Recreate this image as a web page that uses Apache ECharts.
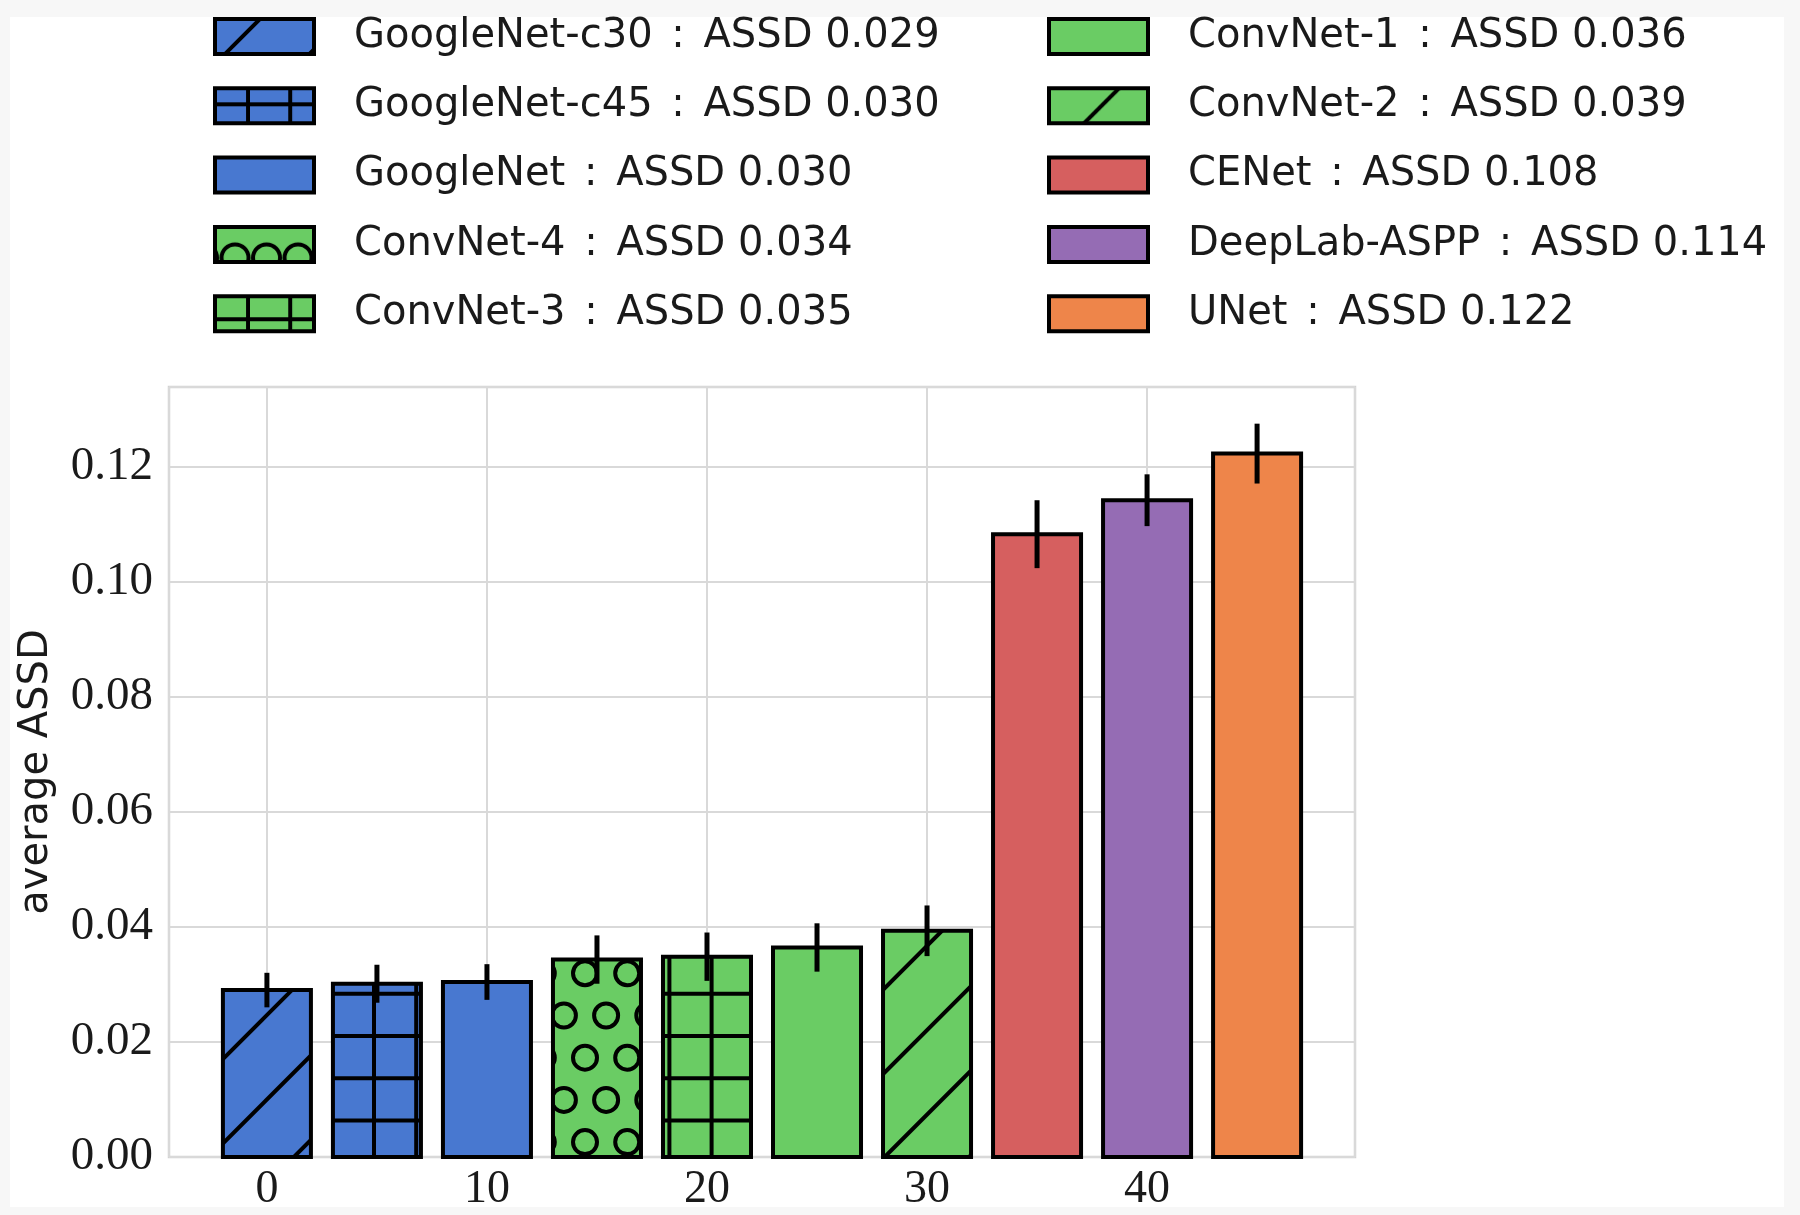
<!DOCTYPE html>
<html>
<head>
<meta charset="utf-8">
<script src="https://cdn.jsdelivr.net/npm/echarts@6/dist/echarts.min.js"></script>
<style>
html,body{margin:0;padding:0;background:#f7f7f7;}
#c{width:1800px;height:1215px;position:absolute;left:0;top:0;}
</style>
</head>
<body>
<div id="c"></div>
<script>
// ---- data ----
const models    = ['GoogleNet-c30','GoogleNet-c45','GoogleNet','ConvNet-4','ConvNet-3','ConvNet-1','ConvNet-2','CENet','DeepLab-ASPP','UNet'];
const positions = [0, 5, 10, 15, 20, 25, 30, 35, 40, 45];
const assd      = [0.0290, 0.0301, 0.0304, 0.0343, 0.0348, 0.0364, 0.0393, 0.1082, 0.1141, 0.1222];
const assdErr   = [0.0030, 0.0033, 0.0031, 0.0042, 0.0042, 0.0042, 0.0044, 0.0059, 0.0045, 0.0052];
const hatches   = ['/', '+', '', 'o', '+', '', '/', '', '', ''];
const xTicks    = [0, 10, 20, 30, 40];
const yTicks    = [0.00, 0.02, 0.04, 0.06, 0.08, 0.10, 0.12];
const legendCol1 = models.slice(0, 5);
const legendCol2 = models.slice(5);

// ---- style ----
const colors = ['#4878d0','#4878d0','#4878d0','#6acc64','#6acc64','#6acc64','#6acc64','#d65f5f','#956cb4','#ee854a'];
const BAR_W = 4;
const HS = 42.2;          // hatch cell size in px
const HLW = 4;            // hatch line width
const TXT = '#1a1a1a';
const SANS = 'DejaVu Sans';
const SERIF = 'Liberation Serif';

// hatch phase settings: bars use page-anchored phases, legend icons use icon-local phases
const barPhase = { '/': { ph: 16 }, '+': { phx: 36.4, phy: 23.2 }, 'o': { phx: 36.4, phy: 44.9, sp: HS, r: 12, rows: true } };
const legPhase = [
  { ph: 45 }, { phx: 33, phy: 16 }, null, { phx: 20, phy: 31, sp: 31.5, r: 13.5, rows: false },
  { phx: 33, phy: 23 }, null, { ph: 70 }, null, null, null
];

function makeFill(color, hatch, o) {
  if (!hatch) return color;
  const cv = document.createElement('canvas');
  let w, h;
  if (hatch === '/') { w = h = Math.round(HS * 10); }
  else if (hatch === '+') { w = h = Math.round(HS * 5); }
  else if (o.rows) { w = Math.round(HS * 5); h = Math.round(HS * 10); }
  else { w = Math.round(o.sp * 20); h = 400; }
  cv.width = w; cv.height = h;
  const ctx = cv.getContext('2d');
  ctx.fillStyle = color; ctx.fillRect(0, 0, w, h);
  ctx.strokeStyle = '#000'; ctx.lineWidth = HLW;
  if (hatch === '/') {
    const sp = HS * 2;
    for (let c = o.ph - 2 * sp; c < w + h + 2 * sp; c += sp) {
      ctx.beginPath(); ctx.moveTo(c + 30, -30); ctx.lineTo(c - h - 30, h + 30); ctx.stroke();
    }
  } else if (hatch === '+') {
    for (let x = o.phx - HS; x < w + HS; x += HS) { ctx.beginPath(); ctx.moveTo(x, -5); ctx.lineTo(x, h + 5); ctx.stroke(); }
    for (let y = o.phy - HS; y < h + HS; y += HS) { ctx.beginPath(); ctx.moveTo(-5, y); ctx.lineTo(w + 5, y); ctx.stroke(); }
  } else if (hatch === 'o') {
    if (o.rows) {
      for (let j = -2; j < 12; j++) {
        const y = o.phy + j * o.sp;
        const off = (j % 2 === 0) ? 0 : -o.sp / 2;
        for (let i = -2; i < 8; i++) {
          const x = o.phx + off + i * o.sp;
          ctx.beginPath(); ctx.arc(x, y, o.r, 0, Math.PI * 2); ctx.stroke();
        }
      }
    } else {
      for (let i = -1; i < 22; i++) {
        ctx.beginPath(); ctx.arc(o.phx + i * o.sp, o.phy, o.r, 0, Math.PI * 2); ctx.stroke();
      }
    }
  }
  return { image: cv, repeat: 'repeat' };
}
const fills = models.map((m, i) => makeFill(colors[i], hatches[i], barPhase[hatches[i]]));
const legendFills = models.map((m, i) => makeFill(colors[i], hatches[i], legPhase[i]));

const xMin = positions[0] - BAR_W / 2, xMax = positions[positions.length - 1] + BAR_W / 2;
const xPad = (xMax - xMin) * 0.05;
const yTop = Math.max(...assd.map((v, i) => v + assdErr[i])) * 1.05;

const barSeries = models.map((name, i) => ({
  name: name,
  type: 'custom',
  coordinateSystem: 'cartesian2d',
  z: 2,
  itemStyle: { color: fills[i], borderColor: '#000', borderWidth: 4 },
  encode: { x: 0, y: 1 },
  data: [[positions[i], assd[i]]],
  renderItem: (params, api) => {
    const x = api.value(0), v = api.value(1);
    const tl = api.coord([x - BAR_W / 2, v]);
    const br = api.coord([x + BAR_W / 2, 0]);
    return {
      type: 'rect',
      shape: { x: tl[0], y: tl[1], width: br[0] - tl[0], height: br[1] - tl[1] },
      style: { fill: fills[i], stroke: '#000', lineWidth: 4 }
    };
  }
}));

const errSeries = {
  name: 'err',
  type: 'custom',
  coordinateSystem: 'cartesian2d',
  z: 5,
  encode: { x: 0, y: 1 },
  data: positions.map((p, i) => [p, assd[i], assdErr[i]]),
  renderItem: (params, api) => {
    const x = api.value(0), v = api.value(1), e = api.value(2);
    const a = api.coord([x, v - e]), b = api.coord([x, v + e]);
    return { type: 'line', shape: { x1: a[0], y1: a[1], x2: b[0], y2: b[1] },
             style: { stroke: '#000', lineWidth: 5 } };
  }
};

const LFS = 40;
const legendRich = {
  n: { fontFamily: SANS, fontSize: LFS, color: TXT },
  c: { fontFamily: SANS, fontSize: LFS, color: TXT, padding: [0, 6, 0, 6] }
};
function legendFmt(name) {
  const i = models.indexOf(name);
  return '{n|' + name + ' }{c|:}{n| ASSD ' + assd[i].toFixed(3) + '}';
}
function makeLegend(left, names) {
  return {
    data: names.map(n => ({ name: n, itemStyle: { color: legendFills[models.indexOf(n)] } })),
    left: left, top: 16.5, orient: 'vertical', padding: 0,
    icon: 'rect', itemWidth: 99, itemHeight: 35, itemGap: 29.3,
    selectedMode: false,
    itemStyle: { borderColor: '#000', borderWidth: 4 },
    formatter: legendFmt,
    textStyle: { fontFamily: SANS, fontSize: LFS, color: TXT, lineHeight: 40, padding: [0, 0, 0, 35], rich: legendRich }
  };
}

const chart = echarts.init(document.getElementById('c'), null, { renderer: 'canvas' });
chart.setOption({
  animation: false,
  backgroundColor: '#f7f7f7',
  graphic: [{ type: 'rect', z: -10, silent: true, shape: { x: 10, y: 17, width: 1774, height: 1190 }, style: { fill: '#ffffff' } }],
  legend: [makeLegend(213, legendCol1), makeLegend(1047, legendCol2)],
  grid: { left: 169, top: 387, width: 1186, height: 770, show: true, borderColor: '#d2d2d2', borderWidth: 2.5, backgroundColor: 'rgba(0,0,0,0)' },
  xAxis: {
    type: 'value', min: xMin - xPad, max: xMax + xPad, splitNumber: 5,
    axisLine: { show: false }, axisTick: { show: false },
    splitLine: { show: true, lineStyle: { color: '#d9d9d9', width: 2 } },
    axisLabel: { margin: 10, fontFamily: SERIF, fontSize: 46, color: TXT,
      formatter: v => xTicks.some(t => Math.abs(t - v) < 1e-9) ? String(Math.round(v)) : '' }
  },
  yAxis: {
    type: 'value', min: 0, max: yTop, interval: 0.02,
    name: 'average ASSD', nameLocation: 'middle', nameGap: 112,
    nameTextStyle: { fontFamily: SANS, fontSize: 40, color: TXT },
    axisLine: { show: false }, axisTick: { show: false },
    splitLine: { show: true, lineStyle: { color: '#d9d9d9', width: 2 } },
    axisLabel: { margin: 16, fontFamily: SERIF, fontSize: 47, color: TXT,
      formatter: v => yTicks.some(t => Math.abs(t - v) < 1e-9) ? v.toFixed(2) : '' }
  },
  series: barSeries.concat([errSeries])
});
</script>
</body>
</html>
